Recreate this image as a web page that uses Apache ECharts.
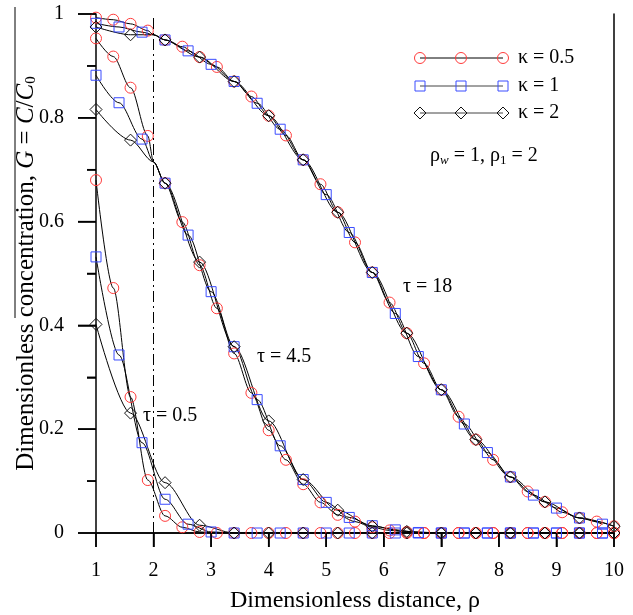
<!DOCTYPE html>
<html>
	<head>
		<meta charset="utf-8">
		<title>G vs rho</title>
		<script src="https://cdn.jsdelivr.net/npm/echarts@6/dist/echarts.min.js"></script>
		<style>
			body { margin: 0; background: #fff; }
		</style>
	</head>
	<body>
		<div id="box" style="width: 633px;height: 615px;"></div>
		<script>
			var FONT = '"Liberation Serif", "Times New Roman", serif'

			// marker positions along rho for each kappa
			var xK05 = [1, 1.3, 1.6, 1.9, 2.2, 2.5, 2.8, 3.1, 3.4, 3.7, 4, 4.3, 4.6, 4.9, 5.2, 5.5, 5.8, 6.1, 6.4, 6.7, 7, 7.3, 7.6, 7.9, 8.2, 8.5, 8.8, 9.1, 9.4, 9.7, 10]
			var xK1 = [1, 1.4, 1.8, 2.2, 2.6, 3, 3.4, 3.8, 4.2, 4.6, 5, 5.4, 5.8, 6.2, 6.6, 7, 7.4, 7.8, 8.2, 8.6, 9, 9.4, 9.8]
			var xK2 = [1, 1.6, 2.2, 2.8, 3.4, 4, 4.6, 5.2, 5.8, 6.4, 7, 7.6, 8.2, 8.8, 9.4, 10]

			// tau = 0.5
			var g05K05 = [0.680, 0.472, 0.262, 0.102, 0.033, 0.011, 0.002, 0, 0, 0, 0, 0, 0, 0, 0, 0, 0, 0, 0, 0, 0, 0, 0, 0, 0, 0, 0, 0, 0, 0, 0]
			var g05K1 = [0.532, 0.343, 0.174, 0.065, 0.017, 0.002, 0, 0, 0, 0, 0, 0, 0, 0, 0, 0, 0, 0, 0, 0, 0, 0, 0]
			var g05K2 = [0.402, 0.231, 0.097, 0.015, 0, 0, 0, 0, 0, 0, 0, 0, 0, 0, 0, 0]
			// tau = 4.5
			var g45K05 = [0.953, 0.918, 0.858, 0.765, 0.674, 0.599, 0.516, 0.433, 0.346, 0.270, 0.198, 0.141, 0.094, 0.059, 0.035, 0.022, 0.011, 0.005, 0.002, 0, 0, 0, 0, 0, 0, 0, 0, 0, 0, 0, 0]
			var g45K1 = [0.882, 0.829, 0.759, 0.674, 0.574, 0.465, 0.359, 0.257, 0.168, 0.103, 0.059, 0.030, 0.014, 0.006, 0.001, 0, 0, 0, 0, 0, 0, 0, 0]
			var g45K2 = [0.816, 0.757, 0.674, 0.522, 0.359, 0.216, 0.103, 0.044, 0.013, 0.003, 0, 0, 0, 0, 0, 0]
			// tau = 18
			var g18K05 = [0.993, 0.989, 0.981, 0.968, 0.950, 0.937, 0.917, 0.898, 0.870, 0.841, 0.804, 0.766, 0.719, 0.672, 0.618, 0.560, 0.502, 0.444, 0.385, 0.327, 0.276, 0.224, 0.180, 0.141, 0.108, 0.080, 0.060, 0.040, 0.029, 0.022, 0.013]
			var g18K1 = [0.982, 0.975, 0.965, 0.950, 0.929, 0.903, 0.870, 0.828, 0.778, 0.719, 0.652, 0.579, 0.502, 0.423, 0.340, 0.276, 0.210, 0.155, 0.108, 0.073, 0.048, 0.029, 0.017]
			var g18K2 = [0.975, 0.960, 0.950, 0.917, 0.870, 0.804, 0.719, 0.618, 0.502, 0.385, 0.276, 0.180, 0.108, 0.060, 0.029, 0.013]

			// value where the curves meet on the interface rho = 2
			var interfaceRho = 2
			var meet45 = 0.715
			var meet18 = 0.960

			// tick values
			var xTicks = [1, 2, 3, 4, 5, 6, 7, 8, 9, 10]
			var yTicks = [0, 0.2, 0.4, 0.6, 0.8, 1]
			var yMinorTicks = [0.1, 0.3, 0.5, 0.7, 0.9]

			var kappaNames = ['κ = 0.5', 'κ = 1', 'κ = 2']
			var kappaColors = ['#ff3b3b', '#3a4cff', '#111111']
			var kappaSymbols = ['circle', 'rect', 'diamond']
			var kappaSizes = [11, 10, 12]

			// plot area
			var W = 633, H = 615
			var G = { left: 96, right: 19, top: 14, bottom: 82 }
			var xMin = 1, xMax = 10, yMin = 0, yMax = 1
			function sx(v) { return G.left + (v - xMin) / (xMax - xMin) * (W - G.left - G.right) }
			function sy(v) { return H - G.bottom - (v - yMin) / (yMax - yMin) * (H - G.top - G.bottom) }

			function makeData(xs, ys, meet) {
				var out = []
				var added = meet == null
				for (var i = 0; i < xs.length; i++) {
					if (!added && xs[i] > interfaceRho) {
						out.push({ value: [interfaceRho, meet], symbol: 'none' })
						added = true
					}
					out.push([xs[i], ys[i]])
				}
				return out
			}

			function curve(k, xs, ys, meet) {
				return {
					name: kappaNames[k],
					type: 'line',
					data: makeData(xs, ys, meet),
					smooth: 0.3,
					smoothMonotone: 'x',
					symbol: kappaSymbols[k],
					symbolSize: kappaSizes[k],
					showAllSymbol: true,
					lineStyle: { color: '#000', width: 1 },
					itemStyle: { color: 'rgba(0,0,0,0)', borderColor: kappaColors[k], borderWidth: 1 },
					emphasis: { disabled: true },
					z: 3
				}
			}

			var series = [
				curve(0, xK05, g05K05, null),
				curve(1, xK1, g05K1, null),
				curve(2, xK2, g05K2, null),
				curve(0, xK05, g45K05, meet45),
				curve(1, xK1, g45K1, meet45),
				curve(2, xK2, g45K2, meet45),
				curve(0, xK05, g18K05, meet18),
				curve(1, xK1, g18K1, meet18),
				curve(2, xK2, g18K2, meet18)
			]
			// dash-dot line at the interface
			series[0].markLine = {
				silent: true,
				symbol: 'none',
				label: { show: false },
				lineStyle: { color: '#000', width: 1, type: [11, 4, 2, 4] },
				data: [{ xAxis: interfaceRho }]
			}

			// legend drawn by hand: line with three markers
			var legendGraphics = []
			var legendY = [58, 86, 113]
			for (var k = 0; k < 3; k++) {
				var y = legendY[k]
				legendGraphics.push({ type: 'line', shape: { x1: 420, y1: y, x2: 503, y2: y }, style: { stroke: k == 0 ? '#000' : '#444', lineWidth: 1 } })
				;[420, 461, 503].forEach(function(cx) {
					var st = { fill: 'none', stroke: kappaColors[k], lineWidth: 1 }
					if (k == 0) legendGraphics.push({ type: 'circle', shape: { cx: cx, cy: y, r: 5.5 }, style: st })
					if (k == 1) legendGraphics.push({ type: 'rect', shape: { x: cx - 5, y: y - 5, width: 10, height: 10 }, style: st })
					if (k == 2) legendGraphics.push({ type: 'polygon', shape: { points: [[cx - 6, y], [cx, y - 6], [cx + 6, y], [cx, y + 6]] }, style: st })
				})
				legendGraphics.push({ type: 'text', x: 518, y: y, style: { text: kappaNames[k], font: '20px ' + FONT, fill: '#000', verticalAlign: 'middle' } })
			}

			function label(x, y, text) {
				return { type: 'text', x: x, y: y, style: { text: text, font: '20px ' + FONT, fill: '#000', verticalAlign: 'middle' } }
			}

			// outward tick marks as thin filled bars
			var tickGraphics = []
			xTicks.forEach(function(v) {
				tickGraphics.push({ type: 'rect', z: 100, shape: { x: sx(v) - 0.75, y: sy(0), width: 1.5, height: 14 }, style: { fill: '#000' } })
			})
			yTicks.forEach(function(v) {
				tickGraphics.push({ type: 'rect', z: 100, shape: { x: sx(1) - 18, y: sy(v) - 0.75, width: 18, height: 1.5 }, style: { fill: '#000' } })
			})
			yMinorTicks.forEach(function(v) {
				tickGraphics.push({ type: 'rect', z: 100, shape: { x: sx(1) - 9, y: sy(v) - 0.75, width: 9, height: 1.5 }, style: { fill: '#000' } })
			})

			var frameLine = { show: true, lineStyle: { color: '#000', width: 1.5 } }

			var mCharts = echarts.init(document.querySelector('#box'))
			var option = {
				animation: false,
				grid: { left: G.left, right: G.right, top: G.top, bottom: G.bottom, outerBoundsMode: 'none' },
				xAxis: [{
					type: 'value',
					min: xMin,
					max: xMax,
					interval: 1,
					name: 'Dimensionless distance, ρ',
					nameLocation: 'middle',
					nameGap: 56,
					nameMoveOverlap: false,
					nameTextStyle: { fontFamily: FONT, fontSize: 24, color: '#000' },
					axisLine: frameLine,
					axisTick: { show: true, inside: false, length: 14, lineStyle: { color: '#000', width: 1.5 } },
					axisLabel: { margin: 28, fontFamily: FONT, fontSize: 20, color: '#000' },
					splitLine: { show: false }
				}, {
					type: 'value', position: 'top', min: xMin, max: xMax,
					axisLine: frameLine, axisTick: { show: false }, axisLabel: { show: false }, splitLine: { show: false }
				}],
				yAxis: [{
					type: 'value',
					min: yMin,
					max: yMax,
					interval: 0.2,
					name: 'Dimensionless concentration, {i|G} = {i|C}/{i|C}{s|0}',
					nameLocation: 'middle',
					nameGap: 57,
					nameMoveOverlap: false,
					nameTextStyle: {
						fontFamily: FONT, fontSize: 25, color: '#000',
						rich: {
							i: { fontFamily: FONT, fontSize: 25, fontStyle: 'italic', color: '#000' },
							s: { fontFamily: FONT, fontSize: 15, color: '#000', padding: [10, 0, 0, 0] }
						}
					},
					axisLine: frameLine,
					axisTick: { show: true, inside: false, length: 18, lineStyle: { color: '#000', width: 1.5 } },
					minorTick: { show: true, splitNumber: 2, length: 9, lineStyle: { color: '#000', width: 1.5 } },
					axisLabel: { margin: 32, fontFamily: FONT, fontSize: 20, color: '#000' },
					splitLine: { show: false }
				}, {
					type: 'value', position: 'right', min: yMin, max: yMax,
					axisLine: frameLine, axisTick: { show: false }, axisLabel: { show: false }, splitLine: { show: false }
				}],
				graphic: legendGraphics.concat(tickGraphics, [
					label(403, 287, 'τ = 18'),
					label(257, 357, 'τ = 4.5'),
					label(143, 416, 'τ = 0.5'),
					{
						type: 'text', x: 430, y: 156,
						style: {
							text: '{a|ρ}{w|w}{a| = 1, ρ}{s|1}{a| = 2}',
							verticalAlign: 'middle',
							rich: {
								a: { font: '20px ' + FONT, fill: '#000' },
								w: { font: 'italic 13px ' + FONT, fill: '#000', padding: [9, 0, 0, 0] },
								s: { font: '13px ' + FONT, fill: '#000', padding: [9, 0, 0, 0] }
							}
						}
					},
					{ type: 'line', shape: { x1: 15, y1: 7, x2: 15, y2: 318 }, style: { stroke: '#000', lineWidth: 1 } }
				]),
				series: series
			}
			mCharts.setOption(option)
		</script>
	</body>
</html>
